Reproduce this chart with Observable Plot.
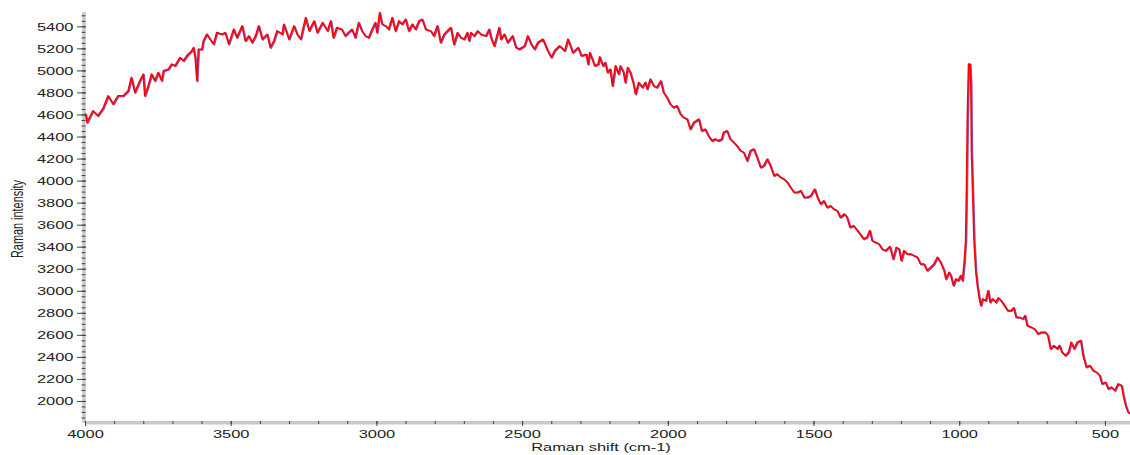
<!DOCTYPE html>
<html><head><meta charset="utf-8">
<script src="https://cdn.jsdelivr.net/npm/d3@7"></script>
<script src="https://cdn.jsdelivr.net/npm/@observablehq/plot@0.6"></script>
<style>body{margin:0;background:#fff}#chart{width:1130px;height:455px}</style>
</head><body><div id="chart"></div>
<script>
const ramanShift = [
4000,3995,3975,3958,3940,3923,3906,3889,3871,3854,3843,3831,3814,3802,3797,3785,3774,3762,3751,3739,3733,3716,3705,3693,3676,3664,3653,3636,3630,3624,3618,3613,3601,3596,3584,3573,3561,3550,3532,3521,3509,3492,3481,3463,3452,3440,3429,3417,3406,3394,3377,3366,3354,3343,3325,3320,3302,3285,3274,3262,3245,3233,3216,3205,3187,3170,3159,
3150,3138,3121,3109,3098,3086,3075,3063,3052,3040,3029,3017,3006,3000,2991,2983,2971,2960,2948,2937,2925,2914,2902,2891,2879,2868,2856,2845,2833,2816,2805,2793,2782,2770,2759,2747,2736,2724,2713,2701,2690,2684,2678,2667,2655,2644,2627,2615,2609,2598,2581,2575,2563,2552,2535,2523,2512,2494,2483,2471,2460,2448,2431,2414,2402,2391,2374,2356,2345,2328,2310,2299,2282,2276,2270,2253,2241,
2236,2225,2217,2209,2200,2192,2182,2171,2165,2154,2148,2140,2131,2121,2113,2102,2090,2079,2073,2062,2051,2040,2026,2017,2005,1994,1982,1971,1959,1948,1936,1925,1913,1904,1896,1886,1874,1863,1851,1840,1828,1817,1811,1799,1788,1776,1765,1753,1742,1730,1719,1707,1696,1684,1673,1661,1650,1638,1627,1615,1604,1592,1581,1569,1558,1546,1535,1523,1512,1498,1489,1478,1467,1456,1444,1433,1421,1410,1396,1387,
1377,1365,1347,1330,1319,1309,1301,1290,1278,1267,1255,1240,1229,1218,1209,1201,1192,1181,1169,1158,1146,1135,1123,1112,1100,1089,1077,1066,1054,1048,1037,1031,1022,1014,1006,997,991,985,980,977,974,970,965,962,960,955,951,945,939,933,928,922,911,903,896,888,876,868,859,847,836,824,815,807,796,784,776,769,755,744,732,721,707,698,689,677,666,658,650,638,627,618,608,597,585,577,566,554,543,531,520,512,500,491,480,468,457,445,439,431,423,418
];
const ramanIntensity = [
4609,4532,4638,4593,4660,4774,4699,4774,4774,4820,4940,4805,4910,4971,4774,4865,4971,4910,4986,4910,5001,5016,5062,5047,5122,5092,5137,5182,5212,5122,4910,5197,5197,5273,5333,5288,5243,5348,5333,5348,5243,5379,5303,5409,5273,5318,5258,5318,5409,5288,5333,5212,5273,5364,5333,5424,5288,5409,5333,5288,5484,5364,5454,5348,5439,5364,5454,
5303,5394,5378,5318,5348,5378,5303,5439,5363,5318,5303,5378,5439,5348,5530,5424,5409,5378,5484,5363,5454,5424,5469,5363,5424,5378,5454,5469,5378,5363,5318,5409,5258,5333,5363,5394,5242,5348,5303,5288,5348,5273,5348,5318,5363,5333,5318,5378,5303,5227,5394,5288,5333,5258,5318,5212,5197,5227,5318,5242,5197,5258,5288,5182,5122,5182,5227,5182,5288,5167,5212,5137,5152,5061,5167,5046,5061,
5128,5046,5077,4986,5016,4865,5046,4971,5046,4986,4895,5031,4986,4895,4790,4895,4850,4895,4835,4926,4865,4850,4910,4805,4759,4699,4669,4684,4608,4578,4563,4472,4533,4548,4563,4457,4472,4412,4366,4382,4366,4382,4442,4457,4382,4351,4321,4276,4261,4185,4276,4291,4215,4125,4140,4200,4140,4049,4064,4034,4019,3989,3943,3898,3898,3913,3853,3853,3868,3928,3853,3792,3822,3762,3777,3747,3732,3671,3702,3671,
3581,3596,3535,3475,3490,3551,3460,3445,3430,3384,3369,3406,3294,3399,3384,3279,3369,3339,3339,3324,3309,3248,3248,3188,3218,3248,3309,3263,3188,3112,3173,3143,3052,3112,3097,3143,3097,3263,3460,3943,4593,5062,5062,4880,4276,3807,3445,3173,3037,2934,2871,2931,2916,3007,2901,2931,2901,2940,2916,2871,2825,2825,2850,2765,2765,2750,2780,2689,2674,2659,2614,2629,2629,2599,2478,2508,2478,2508,2448,2417,2448,2538,2478,2538,2553,2417,2312,2327,2281,2266,2236,2160,2175,2115,2130,2100,2160,2145,2055,1964,1904,1895
];
const xTickLabels = [4000, 3500, 3000, 2500, 2000, 1500, 1000, 500];
const yTickLabels = [2000, 2200, 2400, 2600, 2800, 3000, 3200, 3400, 3600, 3800, 4000, 4200, 4400, 4600, 4800, 5000, 5200, 5400];
const xTitle = "Raman shift (cm-1)";
const yTitle = "Raman intensity";

const spectrum = ramanShift.map((s, i) => ({shift: s, intensity: ramanIntensity[i]}));
const xMinor = d3.range(4000, 414, -100);
const yMinor = d3.range(1850, 5530, 50);
const axisGray = "#c8c8c8", tickDark = "#444";

const chart = Plot.plot({
  width: 1130, height: 455,
  marginLeft: 85, marginRight: 0, marginTop: 12, marginBottom: 32,
  x: {domain: [4000, 414]},
  y: {domain: [1800, 5530]},
  style: {fontFamily: "'Liberation Sans', Arial, sans-serif", fontSize: "11.5px", color: "#222", background: "#fff"},
  marks: [
    Plot.ruleX([4000], {stroke: axisGray, strokeWidth: 3.5, dx: -1.5}),
    Plot.ruleY([1800], {stroke: axisGray, strokeWidth: 3.5, dy: -0.7}),
    Plot.axisY({ticks: yMinor, tickSize: 4, dx: 0.5, stroke: tickDark, fill: "none", label: null}),
    Plot.axisY({ticks: yTickLabels, tickSize: 9, dx: 1, tickPadding: 4, stroke: tickDark, fill: "#222", label: null, tickFormat: d => String(d)}),
    Plot.axisX({ticks: xMinor, tickSize: 3, dy: -2, stroke: tickDark, fill: "none", label: null}),
    Plot.axisX({ticks: xTickLabels, tickSize: 5, dy: -2, tickPadding: 3, stroke: tickDark, fill: "#222", label: null, tickFormat: d => String(d)}),
    Plot.line(spectrum, {x: "shift", y: "intensity", curve: "linear", stroke: "#9b4a9b", strokeWidth: 1.8, dx: 0.9, dy: 0.6}),
    Plot.line(spectrum, {x: "shift", y: "intensity", curve: "linear", stroke: "#ff0000", strokeWidth: 1.5})
  ]
});

// stretch labels horizontally like the reference rendering
chart.querySelectorAll('g[aria-label="y-axis tick label"] text, g[aria-label="x-axis tick label"] text').forEach(t => {
  const tr = t.getAttribute("transform");
  if (tr) t.setAttribute("transform", tr + " scale(1.43,1)");
});
const svg = d3.select(chart);
svg.append("text")
  .attr("transform", "translate(601,451) scale(1.43,1)")
  .attr("text-anchor", "middle").attr("fill", "#222")
  .style("font-size", "11.5px")
  .text(xTitle);
svg.append("text")
  .attr("transform", "translate(23,219) scale(1.43,1) rotate(-90)")
  .attr("text-anchor", "middle").attr("fill", "#222")
  .style("font-size", "10.9px")
  .text(yTitle);
document.getElementById("chart").appendChild(chart);
</script>
</body></html>
